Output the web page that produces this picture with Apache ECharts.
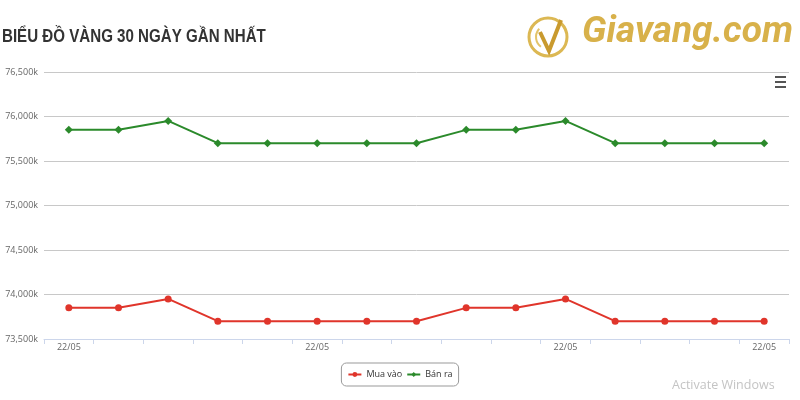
<!DOCTYPE html>
<html>
<head>
<meta charset="utf-8">
<script src="https://cdn.jsdelivr.net/npm/echarts@6/dist/echarts.min.js"></script>
<style>
  html, body { margin: 0; padding: 0; background: #fff; }
  #chart { width: 800px; height: 400px; }
</style>
</head>
<body>
<div id="chart"></div>
<script>
// 15 ngày, nhãn trục x
const days = ['22/05', '22/05', '22/05', '22/05', '22/05', '22/05', '22/05', '22/05',
  '22/05', '22/05', '22/05', '22/05', '22/05', '22/05', '22/05'];
const muaVao = [73850, 73850, 73950, 73700, 73700, 73700, 73700, 73700,
  73850, 73850, 73950, 73700, 73700, 73700, 73700];
const banRa = [75850, 75850, 75950, 75700, 75700, 75700, 75700, 75700,
  75850, 75850, 75950, 75700, 75700, 75700, 75700];
const shownLabels = [0, 5, 10, 14];

function fmtK(v) {
  return String(v).replace(/\B(?=(\d{3})+(?!\d))/g, ',') + 'k';
}

const chart = echarts.init(document.getElementById('chart'));
const option = {
  animation: false,
  grid: { left: 44, right: 11, top: 72, bottom: 61 },
  legend: {
    bottom: 14,
    left: 'center',
    borderColor: '#999',
    borderWidth: 1,
    borderRadius: 5,
    padding: [7, 6],
    itemWidth: 13,
    itemHeight: 6,
    itemGap: 4,
    textStyle: { fontSize: 9, color: '#333', fontFamily: 'Open Sans, sans-serif' },
    data: ['Mua vào', 'Bán ra']
  },
  xAxis: {
    type: 'category',
    data: days,
    boundaryGap: true,
    axisLine: { lineStyle: { color: '#ccd6eb' } },
    axisTick: { show: true, length: 5, interval: 0, lineStyle: { color: '#ccd6eb' } },
    axisLabel: {
      interval: (idx) => shownLabels.includes(idx),
      color: '#666',
      fontSize: 9,
      margin: 4,
      fontFamily: 'Open Sans, sans-serif'
    }
  },
  yAxis: {
    type: 'value',
    min: 73500,
    max: 76500,
    interval: 500,
    axisLine: { show: false },
    axisTick: { show: false },
    splitLine: { lineStyle: { color: '#c8c8c8', width: 1 } },
    axisLabel: {
      formatter: fmtK,
      color: '#666',
      fontSize: 9,
      margin: 6,
      fontFamily: 'Open Sans, sans-serif'
    }
  },
  series: [
    {
      name: 'Mua vào',
      type: 'line',
      data: muaVao,
      symbol: 'circle',
      symbolSize: 7,
      color: '#e0352b',
      lineStyle: { width: 2 }
    },
    {
      name: 'Bán ra',
      type: 'line',
      data: banRa,
      symbol: 'diamond',
      symbolSize: 8,
      color: '#2b8a2b',
      lineStyle: { width: 2 }
    }
  ],
  graphic: [
    // tiêu đề (chữ hẹp)
    {
      type: 'text', x: 2, y: 28, scaleX: 0.84,
      style: {
        text: 'BIỂU ĐỒ VÀNG 30 NGÀY GẦN NHẤT',
        font: 'bold 18px Liberation Sans, Arial, sans-serif',
        fill: '#333'
      }
    },
    // logo
    {
      type: 'circle', shape: { cx: 548, cy: 37, r: 19 },
      style: { fill: 'none', stroke: '#dcb853', lineWidth: 3 }
    },
    {
      type: 'arc', shape: { cx: 548, cy: 37, r: 12, startAngle: 2.2, endAngle: 3.9 },
      style: { fill: 'none', stroke: '#e3c46a', lineWidth: 2 }
    },
    {
      type: 'polyline', shape: { points: [[540, 32], [549, 51], [561, 20]] },
      style: { fill: 'none', stroke: '#c99a2e', lineWidth: 4 }
    },
    {
      type: 'text', x: 582, y: 14,
      style: {
        text: 'Giavang.com',
        font: 'italic bold 37px Roboto, sans-serif',
        fill: '#d8b14a'
      }
    },
    // menu icon
    { type: 'rect', shape: { x: 775, y: 76, width: 11, height: 2 }, style: { fill: '#555' } },
    { type: 'rect', shape: { x: 775, y: 81, width: 11, height: 2 }, style: { fill: '#555' } },
    { type: 'rect', shape: { x: 775, y: 86, width: 11, height: 2 }, style: { fill: '#555' } },
    {
      type: 'text', x: 672, y: 379,
      style: { text: 'Activate Windows', font: '12.5px Open Sans, sans-serif', fill: '#c4c4c4' }
    }
  ]
};
chart.setOption(option);
</script>
</body>
</html>
